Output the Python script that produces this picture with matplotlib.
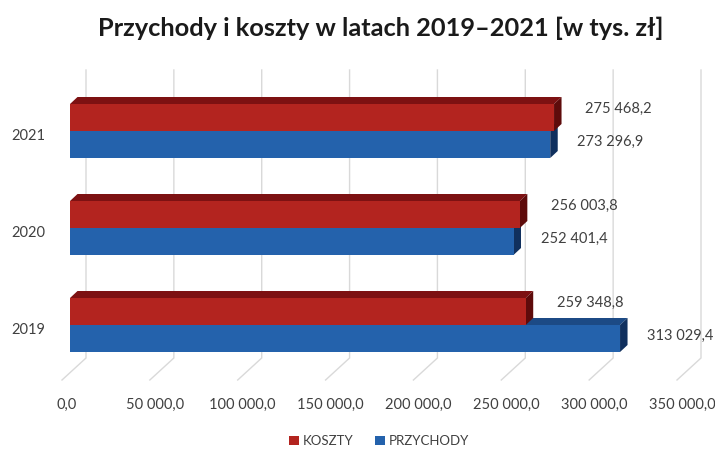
import matplotlib
matplotlib.use("Agg")
import matplotlib.pyplot as plt
from matplotlib.patches import Polygon, Patch

years = ["2019", "2020", "2021"]
koszty = [259348.8, 256003.8, 275468.2]
przychody = [313029.4, 252401.4, 273296.9]
ticks = [0, 50000, 100000, 150000, 200000, 250000, 300000, 350000]

title = "Przychody i koszty w latach 2019\u20132021 [w tys. zł]"

plt.rcParams['font.family'] = ['Lato', 'DejaVu Sans']

RED = ("#B3241F", "#7D1112", "#5E0B0B")     # front, top, side
BLUE = ("#2462AC", "#1C4A85", "#10305E")
GRID = "#D9D9D9"
TXT = "#404040"

XMAX = 350000
PX = 615 / XMAX          # pixels per value unit (front plane)
YU = 1 / 97              # y units per pixel


def px_x(p):
    return p / PX


def fmt(v):
    return f"{v:,.1f}".replace(",", " ").replace(".", ",")


fig = plt.figure(figsize=(7.15, 4.5), dpi=100)
ax = fig.add_axes([70 / 715, 1 - 380 / 450, 615 / 715, 310 / 450])
ax.set_xlim(0, XMAX)
ax.set_ylim(-55 * YU, 255 * YU)
ax.axis("off")

# floor / back wall gridlines
fx0, bx0 = px_x(-8), px_x(16)
fy, by = -55 * YU, -33 * YU
top = 255 * YU
for t in ticks:
    ax.plot([t + fx0, t + bx0, t + bx0], [fy, by, top], color=GRID, lw=1,
            clip_on=False, zorder=1, solid_joinstyle="miter")
    ax.text(t + px_x(-3), fy - 25 * YU, fmt(t), ha="center", va="center",
            fontsize=10.5, color=TXT)

# 3D bar depth
ddx, ddy = px_x(7.5), 7 * YU
h = 27 * YU


def bar3d(x1, y0, y1, cols, z):
    front, topc, side = cols
    ax.add_patch(Polygon([(0, y1), (ddx, y1 + ddy), (x1 + ddx, y1 + ddy), (x1, y1)],
                         closed=True, fc=topc, ec="none", zorder=z))
    ax.add_patch(Polygon([(x1, y0), (x1 + ddx, y0 + ddy), (x1 + ddx, y1 + ddy), (x1, y1)],
                         closed=True, fc=side, ec="none", zorder=z))
    ax.add_patch(Polygon([(0, y0), (x1, y0), (x1, y1), (0, y1)],
                         closed=True, fc=front, ec="none", zorder=z + 0.5))


for i, yr in enumerate(years):
    y = i
    bar3d(przychody[i], y - h, y, BLUE, 3)
    bar3d(koszty[i], y, y + h, RED, 4)
    ax.text(koszty[i] + px_x(31), y + h / 2 + 9 * YU, fmt(koszty[i]),
            ha="left", va="center", fontsize=10.5, color=TXT)
    ax.text(przychody[i] + px_x(27), y - h / 2 + 3 * YU, fmt(przychody[i]),
            ha="left", va="center", fontsize=10.5, color=TXT)
    ax.text(px_x(-42), y - 5 * YU, yr, ha="center", va="center",
            fontsize=10.5, color=TXT)

fig.text(0.532, 1 - 28 / 450, title, ha="center", va="center",
         fontsize=18.3, fontweight="bold", color="#1a1a1a")

handles = [Patch(fc=RED[0], label="KOSZTY"), Patch(fc=BLUE[0], label="PRZYCHODY")]
fig.legend(handles=handles, loc="center", bbox_to_anchor=(0.53, 1 - 441 / 450),
           ncol=2, frameon=False, fontsize=9.5, handlelength=0.75, handleheight=0.75,
           handletextpad=0.3, columnspacing=1.6, labelcolor=TXT)

fig.savefig("out.png", dpi=100)
